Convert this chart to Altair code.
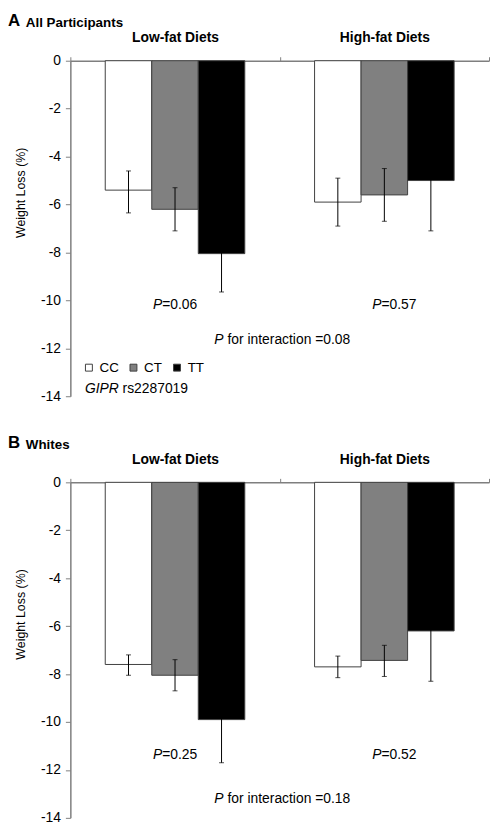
import altair as alt
import pandas as pd

FONT = "Liberation Sans"
GRAY_AXIS = "#7f7f7f"

diets = ["Low-fat Diets", "High-fat Diets"]
genotypes = ["CC", "CT", "TT"]
fills = ["#ffffff", "#808080", "#000000"]

# Panel A: All Participants (mean weight change %, with error bar ends)
a_mean = [-5.4, -6.2, -8.05, -5.9, -5.6, -5.0]
a_lo = [-6.35, -7.1, -9.65, -6.9, -6.7, -7.1]
a_hi = [-4.6, -5.3, -6.45, -4.9, -4.5, -2.9]
a_p = ["=0.06", "=0.57"]
a_inter = "for interaction =0.08"

# Panel B: Whites
b_mean = [-7.6, -8.05, -9.9, -7.7, -7.43, -6.2]
b_lo = [-8.05, -8.7, -11.7, -8.15, -8.1, -8.3]
b_hi = [-7.2, -7.4, -8.1, -7.25, -6.8, -4.1]
b_p = ["=0.25", "=0.52"]
b_inter = "for interaction =0.18"

y_ticks = [-14, -12, -10, -8, -6, -4, -2, 0]

W, H = 423, 339


def panel(mean, lo, hi, letter, subtitle, pvals, p_y, inter, inter_y, legend):
    rows = []
    for i, d in enumerate(diets):
        for j, g in enumerate(genotypes):
            k = i * 3 + j
            rows.append({"diet": d, "genotype": g, "mean": mean[k], "lo": lo[k], "hi": hi[k]})
    df = pd.DataFrame(rows)
    base = alt.Chart(df)

    xaxis = alt.Axis(orient="top", title=None, labelFont=FONT, labelFontWeight="bold",
                     labelFontSize=14, labelColor="black", labelAngle=0, labelPadding=12,
                     tickBand="extent", tickSize=4, tickColor=GRAY_AXIS,
                     domainColor=GRAY_AXIS, domainWidth=1.5)
    xscale = alt.Scale(domain=diets, paddingInner=0, paddingOuter=0)
    x = alt.X("diet:N", sort=diets, scale=xscale, axis=xaxis)
    xo = alt.XOffset("genotype:N", sort=genotypes,
                     scale=alt.Scale(domain=genotypes, paddingInner=0, paddingOuter=0.75))
    yscale = alt.Scale(domain=[-14, 0], nice=False, zero=True)
    yaxis = alt.Axis(values=y_ticks, title="Weight Loss (%)", grid=False,
                     labelExpr="'' + datum.value",
                     labelFont=FONT, labelFontSize=14, labelColor="black", labelPadding=5,
                     tickSize=5, tickColor=GRAY_AXIS, domainColor=GRAY_AXIS, domainWidth=1.5,
                     titleFont=FONT, titleFontSize=12.5, titleFontWeight="normal",
                     titleColor="black", titleX=-43, titleY=133)
    if legend:
        leg = alt.Legend(orient="none", legendX=12, legendY=303, direction="horizontal",
                         title=None, symbolType="square", symbolSize=49,
                         symbolStrokeColor="#404040", symbolStrokeWidth=1, symbolOpacity=1,
                         labelFont=FONT, labelFontSize=13.5, labelColor="black",
                         labelOffset=4, columnPadding=8)
    else:
        leg = None
    fill = alt.Fill("genotype:N", sort=genotypes,
                    scale=alt.Scale(domain=genotypes, range=fills), legend=leg)

    bars = base.mark_bar(stroke="#404040", strokeWidth=1).encode(
        x=x, xOffset=xo, y=alt.Y("mean:Q", scale=yscale, axis=yaxis), fill=fill)
    rule = base.mark_rule(color="black", strokeWidth=1).encode(
        x=x, xOffset=xo, y=alt.Y("lo:Q", scale=yscale, axis=yaxis), y2="hi:Q")
    cap_lo = base.mark_tick(color="black", size=5, thickness=1).encode(
        x=x, xOffset=xo, y=alt.Y("lo:Q", scale=yscale, axis=yaxis))
    cap_hi = base.mark_tick(color="black", size=5, thickness=1).encode(
        x=x, xOffset=xo, y=alt.Y("hi:Q", scale=yscale, axis=yaxis))

    layers = [bars, rule, cap_lo, cap_hi]

    # P values per diet
    p_dx = [-13, -3]
    for i, d in enumerate(diets):
        layers.append(alt.Chart().mark_text(
            text="P", font=FONT, fontSize=14, fontStyle="italic", align="right",
            baseline="middle", dx=p_dx[i], color="black").encode(
            x=alt.datum(d), y=alt.datum(p_y)))
        layers.append(alt.Chart().mark_text(
            text=pvals[i], font=FONT, fontSize=14, align="left",
            baseline="middle", dx=p_dx[i], color="black").encode(
            x=alt.datum(d), y=alt.datum(p_y)))

    # interaction
    layers.append(alt.Chart().mark_text(
        text="P", font=FONT, fontSize=14, fontStyle="italic", align="right",
        baseline="middle", dx=49, color="black").encode(
        x=alt.datum(diets[0]), y=alt.datum(inter_y)))
    layers.append(alt.Chart().mark_text(
        text=inter, font=FONT, fontSize=14, align="left",
        baseline="middle", dx=53, color="black").encode(
        x=alt.datum(diets[0]), y=alt.datum(inter_y)))

    if legend:
        layers.append(alt.Chart().mark_text(
            text="GIPR", font=FONT, fontSize=14, fontStyle="italic", align="left",
            baseline="middle", dx=-91, color="black").encode(
            x=alt.datum(diets[0]), y=alt.datum(-13.71)))
        layers.append(alt.Chart().mark_text(
            text="rs2287019", font=FONT, fontSize=14, align="left",
            baseline="middle", dx=-91 + 38, color="black").encode(
            x=alt.datum(diets[0]), y=alt.datum(-13.71)))

    # panel letter + subtitle
    layers.append(alt.Chart().mark_text(
        text=letter, font=FONT, fontSize=17, fontWeight="bold", align="left",
        baseline="top", color="black").encode(x=alt.value(-63), y=alt.value(-48)))
    layers.append(alt.Chart().mark_text(
        text=subtitle, font=FONT, fontSize=13.5, fontWeight="bold", align="left",
        baseline="top", color="black").encode(x=alt.value(-45), y=alt.value(-45)))

    return alt.layer(*layers).properties(width=W, height=H)


pa = panel(a_mean, a_lo, a_hi, "A", "All Participants", a_p, -10.2, a_inter, -11.65, True)
pb = panel(b_mean, b_lo, b_hi, "B", "Whites", b_p, -11.36, b_inter, -13.2, False)

chart = alt.vconcat(pa, pb, spacing=31).resolve_legend(fill="independent").properties(
    padding={"left": 0, "top": 0, "right": 0, "bottom": 0}
).configure(font=FONT).configure_view(stroke=None)

chart.save("out.html", embed_options={"renderer": "svg", "actions": False})
